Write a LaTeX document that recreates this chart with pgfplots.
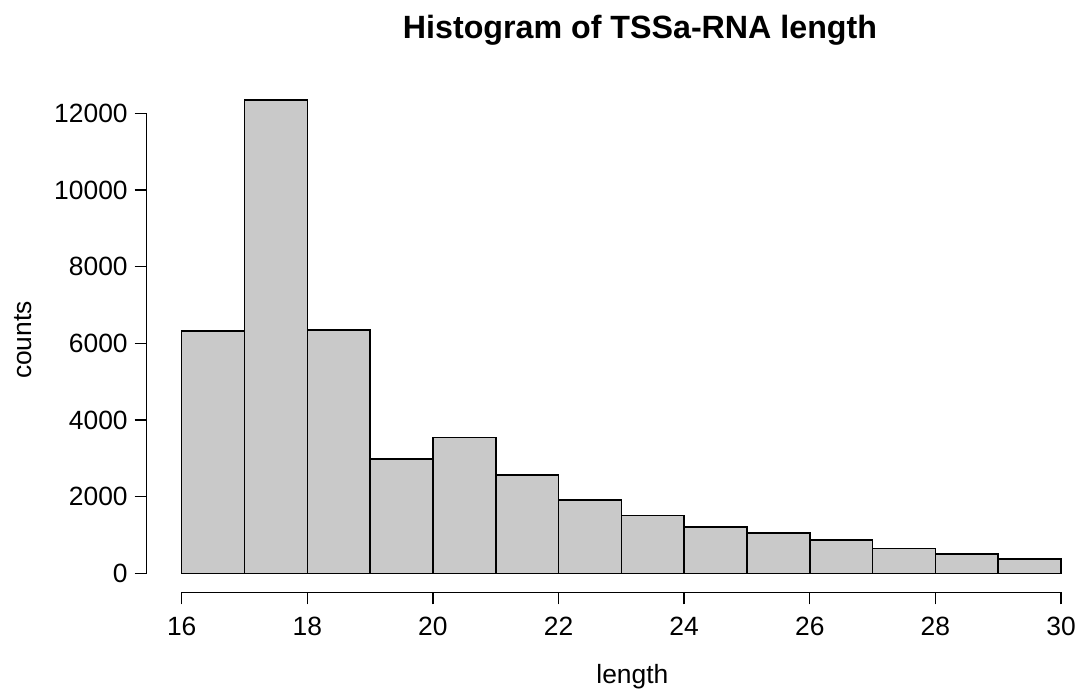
\documentclass[border=0pt]{standalone}
\usepackage{pgfplots}
\pgfplotsset{compat=1.18}
\usepackage{fontspec}
\setmainfont{Liberation Sans}
\definecolor{barfill}{RGB}{201,201,201}
\begin{document}
\begin{tikzpicture}
\useasboundingbox (0pt,0pt) rectangle (543pt,346pt);
\begin{axis}[
  at={(73.35pt,49.85pt)}, anchor=south west,
  scale only axis, width=474.75pt, height=256.15pt,
  xmin=15.443, xmax=30.56, ymin=-495.6, ymax=12869,
  axis x line*=bottom, axis y line*=left,
  axis line style={draw=none},
  tick align=outside, major tick length=6pt,
  tick style={black, line width=0.7pt},
  xtick={16,18,...,30}, ytick={0,2000,...,12000},
  minor tick num=0,
  scaled ticks=false,
  /pgf/number format/1000 sep={},
  /pgf/number format/assume math mode=true,
  ticklabel style={font=\fontsize{13.2}{15}\selectfont},
  xticklabel style={yshift=-3pt},
  clip=false,
]
\addplot[ybar interval, fill=barfill, draw=black, line width=0.8pt]
  coordinates {
  (16,6322) (17,12350) (18,6348) (19,2975) (20,3538) (21,2565) (22,1920)
  (23,1503) (24,1208) (25,1044) (26,869) (27,642) (28,504) (29,381) (30,381)
  };
\draw[line width=0.7pt] (axis cs:16,-495.6) -- (axis cs:30,-495.6);
\draw[line width=0.7pt] (axis cs:15.443,0) -- (axis cs:15.443,12000);
\end{axis}
\node[anchor=base, font=\fontsize{16.1}{18}\selectfont\bfseries] at (320pt,326.5pt) {Histogram of TSSa-RNA length};
\node[anchor=base, font=\fontsize{13.2}{15}\selectfont] at (316.2pt,4.5pt) {length};
\node[anchor=base, rotate=90, font=\fontsize{13.2}{15}\selectfont] at (15.85pt,176pt) {counts};
\end{tikzpicture}
\end{document}
